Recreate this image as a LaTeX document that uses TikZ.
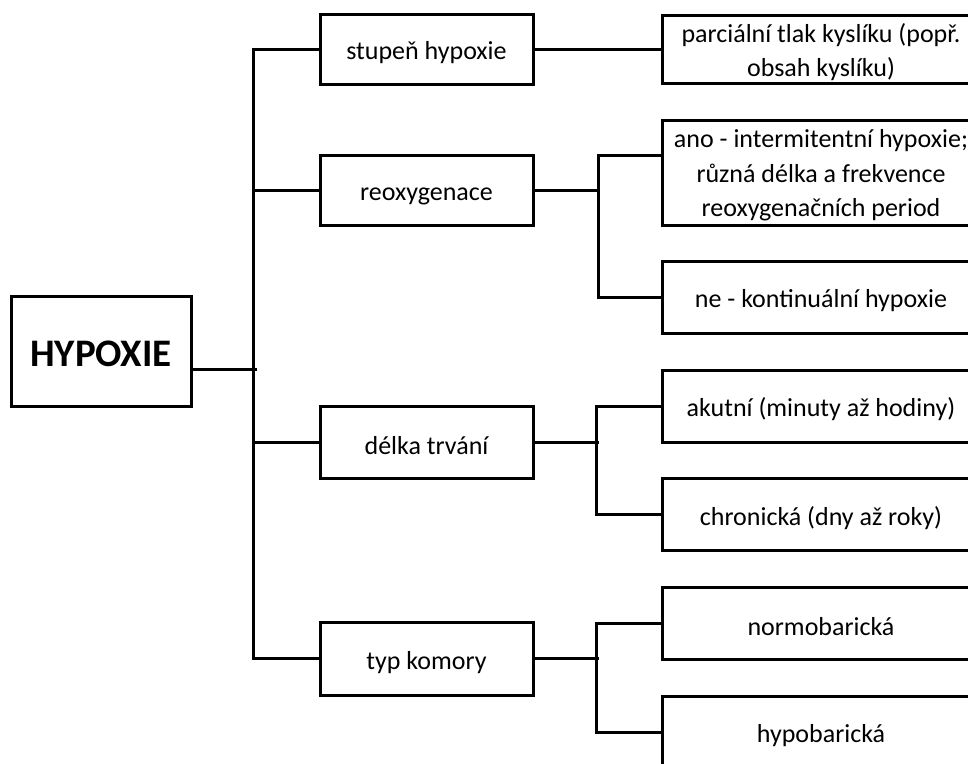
\documentclass[tikz,border=0pt]{standalone}
\usepackage{fontspec}
\setmainfont{Carlito}
\usetikzlibrary{calc, positioning}

\begin{document}
\begin{tikzpicture}[x=1pt, y=-1pt, line width=3pt,
  box/.style={draw, rectangle, inner sep=0pt, align=center, text height=26pt, font=\fontsize{26}{34.5}\selectfont},
  midbox/.style={box, minimum width=213pt, minimum height=70pt},
  leafbox/.style={box, minimum width=318pt, minimum height=72pt},
  wire/.style={line cap=rect}]
\useasboundingbox (0,0) rectangle (968,763);
\clip (0,0) rectangle (968,763);
% root
\node[box, minimum width=180pt, minimum height=110pt, text height=32pt, font=\fontsize{39}{42}\selectfont\bfseries] (hyp) at (101,351) {HYPOXIE};
\coordinate (j0) at (255,369);
% middle level
\node[midbox] (stup) at (426.5,49) {stupeň hypoxie};
\node[midbox] (reox) at (426.5,190) {reoxygenace};
\node[midbox, minimum height=72pt] (delka) at (426.5,442) {délka trvání};
\node[midbox, minimum height=73pt] (typ) at (426.5,658.5) {typ komory};
% leaves
\node[leafbox, minimum height=68pt, text height=60pt] (parc) at (821,49) {parciální tlak kyslíku (popř.\\obsah kyslíku)};
\node[leafbox, minimum height=105pt, text height=93pt] (ano) at (821,172.5) {ano - intermitentní hypoxie;\\různá délka a frekvence\\reoxygenačních period};
\coordinate (anoin) at (662,155);
\node[leafbox] (ne) at (821,297) {ne - kontinuální hypoxie};
\node[leafbox] (akut) at (821,406) {akutní (minuty až hodiny)};
\node[leafbox] (chron) at (821,514.5) {chronická (dny až roky)};
\node[leafbox] (normo) at (821,623) {normobarická};
\node[leafbox] (hypob) at (821,732) {hypobarická};
% trunk
\draw[wire] (hyp.east |- j0) -- ++(63,0);
\draw (stup.west) -- ++(-65,0) |- (typ.west);
\draw[wire] (reox.west) -- ++(-64,0);
\draw[wire] (delka.west) -- ++(-64,0);
% branches
\draw (stup.east) -- (parc.west);
\draw[wire] (reox.east) -- ++(63,0);
\draw (anoin) -- ++(-64,0) |- (ne.west);
\draw[wire] (delka.east) -- ++(63,0);
\draw (akut.west) -- ++(-64,0) |- (chron.west);
\draw[wire] (typ.east) -- ++(63,0);
\draw (normo.west) -- ++(-64,0) |- (hypob.west);
\end{tikzpicture}
\end{document}
